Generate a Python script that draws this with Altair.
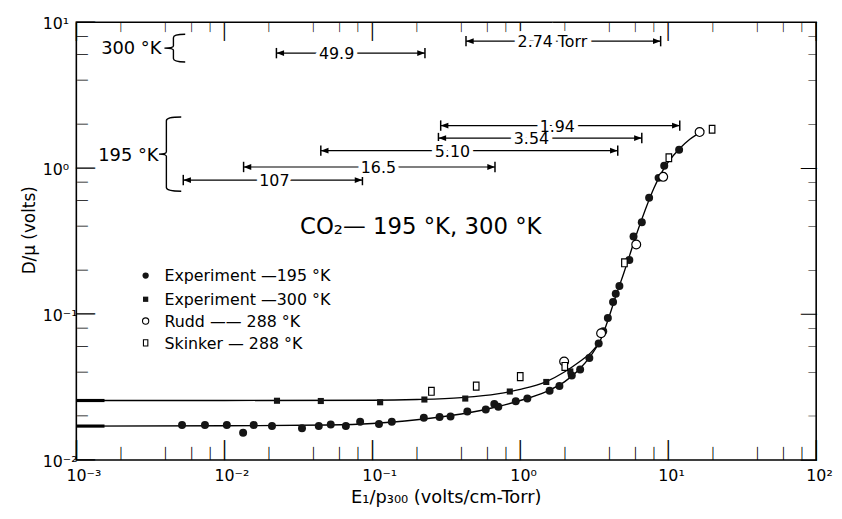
import altair as alt
import pandas as pd

W, H = 747, 442
FONT = "DejaVu Sans"
TICK_FONT = "DejaVu Sans Mono"

# ---------------- data ----------------
# Experiment, 195 K (filled circles)
exp195_x = [0.00518, 0.0074, 0.0104, 0.0134, 0.0158, 0.021, 0.0335, 0.0435, 0.0524, 0.0663,
            0.0828, 0.111, 0.1355, 0.223, 0.285, 0.338, 0.439, 0.585, 0.668, 0.711,
            0.933, 1.117, 1.58, 1.84, 2.23, 2.54, 2.93, 3.39, 3.64, 3.91,
            4.24, 4.42, 4.68, 5.46, 5.83, 6.63, 7.43, 8.61, 9.4, 11.85]
exp195_y = [0.0174, 0.0174, 0.0174, 0.0154, 0.0174, 0.0171, 0.0165, 0.0171, 0.0175, 0.0171,
            0.0183, 0.0177, 0.0183, 0.0195, 0.0197, 0.0199, 0.0215, 0.0222, 0.0242, 0.0232,
            0.0253, 0.0264, 0.0299, 0.0322, 0.038, 0.0418, 0.050, 0.063, 0.0763, 0.094,
            0.121, 0.138, 0.156, 0.235, 0.341, 0.427, 0.628, 0.859, 1.04, 1.34]
# Experiment, 300 K (filled squares)
exp300_x = [0.0227, 0.0449, 0.113, 0.225, 0.425, 0.85, 1.50, 2.18]
exp300_y = [0.0255, 0.0254, 0.0249, 0.026, 0.0264, 0.0295, 0.0343, 0.0405]
# Rudd, 288 K (open circles)
rudd_x = [1.98, 3.52, 6.08, 9.25, 16.3]
rudd_y = [0.0474, 0.074, 0.30, 0.873, 1.77]
# Skinker, 288 K (open squares)
skinker_x = [0.251, 0.504, 1.00, 2.0, 5.06, 10.1, 19.8]
skinker_y = [0.0296, 0.0321, 0.0373, 0.0438, 0.225, 1.18, 1.85]

# drawn curves
fit195_x = [0.001, 0.01, 0.05, 0.1, 0.2, 0.4, 0.7, 1.0, 1.5, 2.0, 2.5, 3.0, 3.5, 4.0, 4.5,
            5.0, 5.5, 6.0, 7.0, 8.0, 9.0, 10.0, 12.0, 14.0, 17.5]
fit195_y = [0.0171, 0.0172, 0.0174, 0.0178, 0.0189, 0.0207, 0.0232, 0.0256, 0.0295, 0.0345,
            0.0418, 0.052, 0.067, 0.097, 0.14, 0.19, 0.255, 0.335, 0.52, 0.73, 0.93, 1.1,
            1.37, 1.58, 1.82]
fit300_x = [0.001, 0.01, 0.1, 0.2, 0.4, 0.7, 1.0, 1.5, 2.0, 2.5, 3.0, 3.4]
fit300_y = [0.0256, 0.0256, 0.0257, 0.026, 0.0268, 0.0284, 0.0305, 0.0345, 0.0403, 0.047,
            0.0545, 0.063]

# heavy starts of both curves at the left edge
stub_series = ["300", "300", "195", "195"]
stub_x = [0.001, 0.00155, 0.001, 0.00155]
stub_y = [0.0256, 0.0256, 0.0171, 0.0171]

# pressure-range bars
rng_labels = ["49.9", "2.74  Torr", "1.94", "3.54", "5.10", "16.5", "107"]
rng_x1 = [0.0225, 0.43, 0.29, 0.28, 0.0449, 0.0135, 0.00528]
rng_x2 = [0.227, 8.89, 11.97, 6.63, 4.56, 0.675, 0.0858]
rng_y = [6.15, 7.43, 1.96, 1.61, 1.32, 1.02, 0.83]
rng_xt = [0.0574, 1.65, 1.78, 1.19, 0.348, 0.11, 0.0218]

# temperature group labels with braces
temp_labels = ["300 °K", "195 °K"]
temp_x = [0.00376, 0.00359]
temp_y = [6.65, 1.24]
brace_x = [0.00453, 0.00406]
brace_y = [6.65, 1.25]

# chart title inside plot
title_text = ["CO₂— 195 °K, 300 °K"]
title_x = [0.0325]
title_y = [0.397]

# legend
legend_labels = ["Experiment —195 °K", "Experiment —300 °K", "Rudd —— 288 °K", "Skinker — 288 °K"]
legend_marker_x = [0.00294, 0.00294, 0.00294, 0.00294]
legend_text_x = [0.00394, 0.00394, 0.00394, 0.00394]
legend_y = [0.184, 0.1265, 0.0897, 0.0635]

# axes: extents, tick values, tick labels, titles
x_domain = [1e-3, 1e2]
y_domain = [1e-2, 1e1]
dec_x = [1e-3, 1e-2, 1e-1, 1, 10, 100]
dec_y = [1e-2, 1e-1, 1, 10]
x_tick_labels = ["10⁻³", "10⁻²", "10⁻¹", "10⁰", "10¹", "10²"]
y_tick_labels = ["10⁻²", "10⁻¹", "10⁰", "10¹"]
minor_x = [m * d for d in dec_x[:-1] for m in (2, 4, 6, 8)]
minor_y = [m * d for d in dec_y[:-1] for m in (2, 4, 6, 8)]
x_title = "E₁/p₃₀₀ (volts/cm-Torr)"
y_title = "D/μ (volts)"
x_mid = (x_domain[0] * x_domain[1]) ** 0.5
y_mid = (y_domain[0] * y_domain[1]) ** 0.5

# ---------------- frames ----------------
df195 = pd.DataFrame({"x": exp195_x, "y": exp195_y})
df300 = pd.DataFrame({"x": exp300_x, "y": exp300_y})
drudd = pd.DataFrame({"x": rudd_x, "y": rudd_y})
dskin = pd.DataFrame({"x": skinker_x, "y": skinker_y})
dfit195 = pd.DataFrame({"x": fit195_x, "y": fit195_y})
dfit300 = pd.DataFrame({"x": fit300_x, "y": fit300_y})
dstub = pd.DataFrame({"s": stub_series, "x": stub_x, "y": stub_y})
drng = pd.DataFrame({"label": rng_labels, "x1": rng_x1, "x2": rng_x2, "y": rng_y, "xt": rng_xt})
dtemp = pd.DataFrame({"label": temp_labels, "x": temp_x, "y": temp_y})
dbr300 = pd.DataFrame({"x": brace_x[:1], "y": brace_y[:1]})
dbr195 = pd.DataFrame({"x": brace_x[1:], "y": brace_y[1:]})
dtitle = pd.DataFrame({"label": title_text, "x": title_x, "y": title_y})
dleg = pd.DataFrame({"label": legend_labels, "mx": legend_marker_x, "tx": legend_text_x, "y": legend_y,
                     "k": [0, 1, 2, 3]})
dxlab = pd.DataFrame({"v": dec_x, "label": x_tick_labels})
dylab = pd.DataFrame({"v": dec_y, "label": y_tick_labels})
dxt = pd.DataFrame({"label": [x_title]})
dyt = pd.DataFrame({"label": [y_title]})
TICK_GLYPH = "│"
dtmx = pd.DataFrame({"v": dec_x, "g": [TICK_GLYPH] * len(dec_x)})
dtnx = pd.DataFrame({"v": minor_x, "g": [TICK_GLYPH] * len(minor_x)})
dtmy = pd.DataFrame({"v": dec_y, "g": [TICK_GLYPH] * len(dec_y)})
dtny = pd.DataFrame({"v": minor_y, "g": [TICK_GLYPH] * len(minor_y)})

XS = alt.Scale(type="log", domain=x_domain, nice=False)
YS = alt.Scale(type="log", domain=y_domain, nice=False)


def X(field):
    return alt.X(f"{field}:Q", scale=XS, axis=None)


def Y(field):
    return alt.Y(f"{field}:Q", scale=YS, axis=None)


def XD(v):
    return alt.XDatum(v, type="quantitative", scale=XS, axis=None)


def YD(v):
    return alt.YDatum(v, type="quantitative", scale=YS, axis=None)


# box-drawing bar spans 0.928 em above and 0.236 em below its baseline
ASC, DESC = 0.928, 0.236


def tick_layer(df, side, length):
    fs = length / (ASC + DESC)
    common = dict(font=TICK_FONT, fontSize=fs, align="center", baseline="alphabetic", color="black")
    if side == "bottom":
        return alt.Chart(df).mark_text(dy=-DESC * fs, **common).encode(
            x=X("v"), y=YD(y_domain[0]), text="g:N")
    if side == "top":
        return alt.Chart(df).mark_text(dy=ASC * fs, **common).encode(
            x=X("v"), y=YD(y_domain[1]), text="g:N")
    if side == "left":
        return alt.Chart(df).mark_text(angle=90, dy=-DESC * fs, **common).encode(
            y=Y("v"), x=XD(x_domain[0]), text="g:N")
    return alt.Chart(df).mark_text(angle=90, dy=ASC * fs, **common).encode(
        y=Y("v"), x=XD(x_domain[1]), text="g:N")


BAR_PATH = "M0,-1L0,1"
ARROW_L = "M0,0L1,-0.38L1,0.38Z"
ARROW_R = "M0,0L-1,-0.38L-1,0.38Z"
BRACE300 = "M0.85,-1Q0,-1,0,-0.75L0,-0.15Q0,0,-0.65,0Q0,0,0,0.15L0,0.75Q0,1,0.85,1"
BRACE195 = "M0.4,-1Q0,-1,0,-0.9L0,-0.06Q0,0,-0.2,0Q0,0,0,0.06L0,0.9Q0,1,0.4,1"
OPEN_SQ = "M-0.7,-1L0.7,-1L0.7,1L-0.7,1Z"

layers = []

# curves
layers.append(alt.Chart(dfit195).mark_line(color="black", strokeWidth=1.35, interpolate="monotone")
              .encode(x=X("x"), y=Y("y")))
layers.append(alt.Chart(dfit300).mark_line(color="black", strokeWidth=1.35, interpolate="monotone")
              .encode(x=X("x"), y=Y("y")))
layers.append(alt.Chart(dstub).mark_line(color="black", strokeWidth=3.2)
              .encode(x=X("x"), y=Y("y"), detail="s:N"))

# inward ticks on all four sides
layers.append(tick_layer(dtmx, "bottom", 20))
layers.append(tick_layer(dtnx, "bottom", 13))
layers.append(tick_layer(dtmx, "top", 18))
layers.append(tick_layer(dtnx, "top", 10))
layers.append(tick_layer(dtmy, "left", 19))
layers.append(tick_layer(dtny, "left", 11))
layers.append(tick_layer(dtmy, "right", 16))
layers.append(tick_layer(dtny, "right", 8))

# tick labels and axis titles
layers.append(alt.Chart(dxlab).mark_text(font=FONT, fontSize=16, align="left", baseline="middle",
                                          color="black", dx=-10, dy=16)
              .encode(x=X("v"), y=YD(y_domain[0]), text="label:N"))
layers.append(alt.Chart(dylab).mark_text(font=FONT, fontSize=16, align="left", baseline="middle",
                                          color="black", dx=-34, dy=2)
              .encode(y=Y("v"), x=XD(x_domain[0]), text="label:N"))
layers.append(alt.Chart(dxt).mark_text(font=FONT, fontSize=18, align="center", baseline="alphabetic",
                                        color="black", dy=43)
              .encode(x=XD(x_mid), y=YD(y_domain[0]), text="label:N"))
layers.append(alt.Chart(dyt).mark_text(font=FONT, fontSize=17, align="center", baseline="alphabetic",
                                        color="black", angle=270, dx=11, dy=-42)
              .encode(x=XD(x_domain[0]), y=YD(y_mid), text="label:N"))

# range bars
layers.append(alt.Chart(drng).mark_rule(color="black", strokeWidth=1.2)
              .encode(x=X("x1"), x2="x2:Q", y=Y("y")))
layers.append(alt.Chart(drng).mark_point(shape=BAR_PATH, size=110, filled=False, stroke="black",
                                          strokeWidth=1.5, opacity=1)
              .encode(x=X("x1"), y=Y("y")))
layers.append(alt.Chart(drng).mark_point(shape=BAR_PATH, size=110, filled=False, stroke="black",
                                          strokeWidth=1.5, opacity=1)
              .encode(x=X("x2"), y=Y("y")))
layers.append(alt.Chart(drng).mark_point(shape=ARROW_L, size=240, filled=True, color="black", opacity=1)
              .encode(x=X("x1"), y=Y("y")))
layers.append(alt.Chart(drng).mark_point(shape=ARROW_R, size=240, filled=True, color="black", opacity=1)
              .encode(x=X("x2"), y=Y("y")))
layers.append(alt.Chart(drng).mark_text(font=FONT, fontSize=16, baseline="middle", align="center",
                                         fill="white", stroke="white", strokeWidth=8, dy=1)
              .encode(x=X("xt"), y=Y("y"), text="label:N"))
layers.append(alt.Chart(drng).mark_text(font=FONT, fontSize=16, baseline="middle", align="center",
                                         color="black", dy=1)
              .encode(x=X("xt"), y=Y("y"), text="label:N"))

# temperature labels and braces
layers.append(alt.Chart(dtemp).mark_text(font=FONT, fontSize=18, baseline="middle", align="right",
                                          color="black", dy=1)
              .encode(x=X("x"), y=Y("y"), text="label:N"))
layers.append(alt.Chart(dbr300).mark_point(shape=BRACE300, size=784, filled=False, stroke="black",
                                            strokeWidth=1.4, opacity=1)
              .encode(x=X("x"), y=Y("y")))
layers.append(alt.Chart(dbr195).mark_point(shape=BRACE195, size=5625, filled=False, stroke="black",
                                            strokeWidth=1.4, opacity=1)
              .encode(x=X("x"), y=Y("y")))

# in-plot title
layers.append(alt.Chart(dtitle).mark_text(font=FONT, fontSize=23, baseline="middle", align="left",
                                           color="black")
              .encode(x=X("x"), y=Y("y"), text="label:N"))

# data points
layers.append(alt.Chart(df195).mark_point(shape="circle", size=65, filled=True, color="#151515",
                                           opacity=1)
              .encode(x=X("x"), y=Y("y")))
layers.append(alt.Chart(df300).mark_point(shape="square", size=38, filled=True, color="#151515",
                                           opacity=1)
              .encode(x=X("x"), y=Y("y")))
layers.append(alt.Chart(drudd).mark_point(shape="circle", size=80, filled=True, fill="white",
                                           stroke="black", strokeWidth=1.2, opacity=1)
              .encode(x=X("x"), y=Y("y")))
layers.append(alt.Chart(dskin).mark_point(shape=OPEN_SQ, size=64, filled=True, fill="white",
                                           stroke="black", strokeWidth=1.2, opacity=1)
              .encode(x=X("x"), y=Y("y")))

# legend
leg = alt.Chart(dleg)
layers.append(leg.transform_filter("datum.k == 0").mark_point(shape="circle", size=40, filled=True,
                                                              color="#151515", opacity=1)
              .encode(x=X("mx"), y=Y("y")))
layers.append(leg.transform_filter("datum.k == 1").mark_point(shape="square", size=28, filled=True,
                                                              color="#151515", opacity=1)
              .encode(x=X("mx"), y=Y("y")))
layers.append(leg.transform_filter("datum.k == 2").mark_point(shape="circle", size=40, filled=True,
                                                              fill="white", stroke="black",
                                                              strokeWidth=1.1, opacity=1)
              .encode(x=X("mx"), y=Y("y")))
layers.append(leg.transform_filter("datum.k == 3").mark_point(shape=OPEN_SQ, size=40, filled=True,
                                                              fill="white", stroke="black",
                                                              strokeWidth=1.1, opacity=1)
              .encode(x=X("mx"), y=Y("y")))
layers.append(leg.mark_text(font=FONT, fontSize=16, baseline="middle", align="left", color="black", dy=1)
              .encode(x=X("tx"), y=Y("y"), text="label:N"))

chart = (alt.layer(*layers)
         .properties(width=W, height=H, autosize="none",
                     padding={"left": 69, "top": 12, "right": 18, "bottom": 53},
                     background="white")
         .configure_view(stroke="black", strokeWidth=1.6))

chart.save("out.html", embed_options={"renderer": "svg", "actions": False})
